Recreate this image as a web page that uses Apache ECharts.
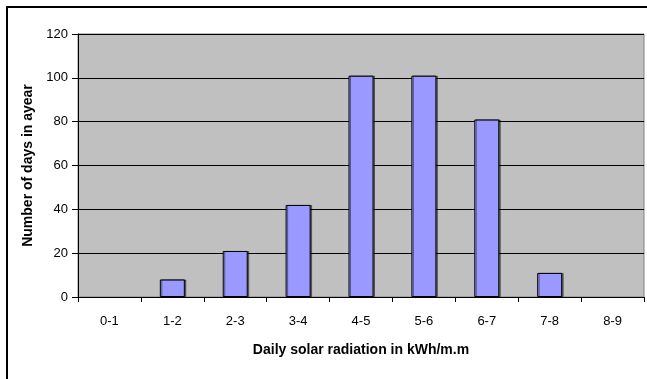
<!DOCTYPE html>
<html>
<head>
<meta charset="utf-8">
<script src="https://cdn.jsdelivr.net/npm/echarts@6/dist/echarts.min.js"></script>
<style>
  html, body { margin: 0; padding: 0; background: #fff; }
  #chart { width: 647px; height: 379px; }
</style>
</head>
<body>
<div id="chart"></div>
<script>
// Radiation bands (kWh/m² per day) and how many days of the year fall in each
const categories = ['0-1', '1-2', '2-3', '3-4', '4-5', '5-6', '6-7', '7-8', '8-9'];
const dayCounts = [0, 8, 21, 42, 101, 101, 81, 11, 0];
const yTicks = { min: 0, max: 120, interval: 20 };

const font = 'Arial, "Liberation Sans", sans-serif';

// empty bands get no outline, so nothing shows on the baseline
const barData = dayCounts.map(v => v === 0
  ? { value: v, itemStyle: { borderWidth: 0, shadowColor: 'transparent', color: 'transparent' } }
  : v);

const chart = echarts.init(document.getElementById('chart'), null, { renderer: 'canvas' });

chart.setOption({
  animation: false,
  backgroundColor: '#ffffff',
  grid: {
    left: 78, right: 3, top: 34, bottom: 82,
    show: true,
    backgroundColor: '#C0C0C0',
    borderColor: '#808080',
    borderWidth: 1
  },
  graphic: [{
    type: 'rect',
    shape: { x: 7, y: 7, width: 700, height: 420 },
    style: { fill: 'none', stroke: '#000', lineWidth: 2 },
    silent: true,
    z: 10
  }],
  xAxis: {
    type: 'category',
    data: categories,
    boundaryGap: true,
    name: 'Daily solar radiation in kWh/m.m',
    nameLocation: 'middle',
    nameGap: 46,
    nameTextStyle: { fontFamily: font, fontSize: 14, fontWeight: 'bold', color: '#000' },
    axisLine: { lineStyle: { color: '#000', width: 1 } },
    axisTick: { show: true, alignWithLabel: false, length: 5, lineStyle: { color: '#000' } },
    axisLabel: { fontFamily: font, fontSize: 13, color: '#000', margin: 18, interval: 0 },
    splitLine: { show: false }
  },
  yAxis: {
    type: 'value',
    min: yTicks.min,
    max: yTicks.max,
    interval: yTicks.interval,
    name: 'Number of days in ayear',
    nameLocation: 'middle',
    nameGap: 40,
    nameTextStyle: { fontFamily: font, fontSize: 14, fontWeight: 'bold', color: '#000' },
    axisLine: { show: true, lineStyle: { color: '#000', width: 1 } },
    axisTick: { show: true, length: 6, lineStyle: { color: '#000' } },
    axisLabel: { fontFamily: font, fontSize: 13, color: '#000', margin: 10 },
    splitLine: { show: true, lineStyle: { color: '#000', width: 1 } }
  },
  series: [{
    type: 'bar',
    data: barData,
    barWidth: 25,
    itemStyle: {
      color: '#9999FF',
      borderColor: '#000',
      borderWidth: 1,
      shadowColor: 'rgba(0,0,0,0.45)',
      shadowOffsetX: 1.5,
      shadowOffsetY: 0,
      shadowBlur: 0
    }
  }]
});
</script>
</body>
</html>
